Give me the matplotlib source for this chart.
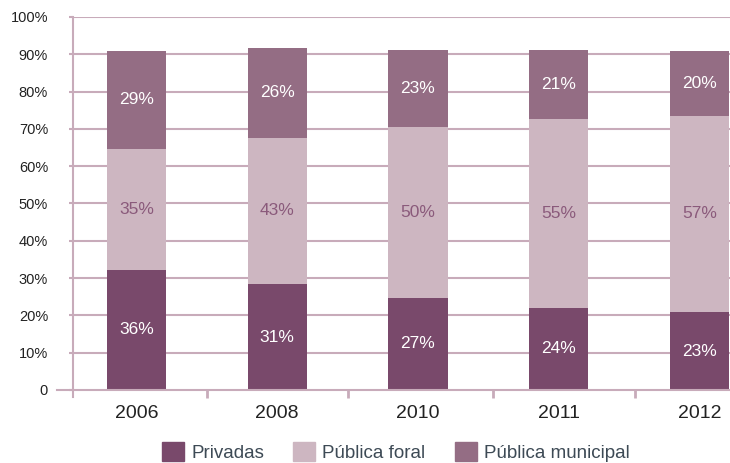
import numpy as np
import matplotlib
matplotlib.use('Agg')
import matplotlib.pyplot as plt
from matplotlib.patches import Patch

# -------- datos --------
anios = ['2006', '2008', '2010', '2011', '2012']
series = ['Privadas', 'Pública foral', 'Pública municipal']

# alturas de los segmentos (escala del eje)
h_privadas = [32.2, 28.4, 24.7, 22.0, 20.9]
h_foral = [32.4, 39.2, 45.8, 50.7, 52.6]
h_municipal = [26.3, 24.1, 20.7, 18.5, 17.4]

# etiquetas de cada segmento (%)
lab_privadas = [36, 31, 27, 24, 23]
lab_foral = [35, 43, 50, 55, 57]
lab_municipal = [29, 26, 23, 21, 20]

y_ticks = [0, 10, 20, 30, 40, 50, 60, 70, 80, 90, 100]

# -------- estilo --------
c_priv = '#79496b'
c_foral = '#cdb6c1'
c_muni = '#946d84'
c_grid = '#c8abba'
c_lab_foral = '#8a5a7b'
fuente = 'Liberation Sans'

fig = plt.figure(figsize=(7.3, 4.63), dpi=100)
ax = fig.add_axes([0.1, 0.1577, 0.9, 0.8056])

x = np.arange(len(anios))
w = 0.42
h_priv = np.array(h_privadas)
h_for = np.array(h_foral)
h_mun = np.array(h_municipal)

ax.bar(x, h_priv, w, color=c_priv, zorder=2)
ax.bar(x, h_for, w, bottom=h_priv, color=c_foral, zorder=2)
ax.bar(x, h_mun, w, bottom=h_priv + h_for, color=c_muni, zorder=2)

for i in range(len(anios)):
    ax.text(x[i], h_priv[i] / 2, '%d%%' % lab_privadas[i], ha='center', va='center',
            color='white', fontsize=12.5, family=fuente, zorder=3)
    ax.text(x[i], h_priv[i] + h_for[i] / 2, '%d%%' % lab_foral[i], ha='center', va='center',
            color=c_lab_foral, fontsize=12.5, family=fuente, zorder=3)
    ax.text(x[i], h_priv[i] + h_for[i] + h_mun[i] / 2, '%d%%' % lab_municipal[i], ha='center',
            va='center', color='white', fontsize=12.5, family=fuente, zorder=3)

ax.set_xlim(-0.451, 4.217)
ax.set_ylim(0, 100)

# rejilla horizontal
for yv in y_ticks[1:]:
    ax.axhline(yv, color=c_grid, lw=1.5, zorder=1)

for s in ['top', 'right']:
    ax.spines[s].set_visible(False)
ax.spines['left'].set_color(c_grid)
ax.spines['left'].set_linewidth(1.5)
ax.spines['left'].set_bounds(-1.8, 100)
ax.spines['bottom'].set_color(c_grid)
ax.spines['bottom'].set_linewidth(1.5)
ax.spines['bottom'].set_bounds(-0.565, 4.217)

ax.set_yticks(y_ticks)
ax.set_yticklabels(['0'] + ['%d%%' % v for v in y_ticks[1:]])
ax.tick_params(axis='y', length=3, width=1.5, color=c_grid, pad=15,
               labelsize=10.5, labelcolor='#222222')
for t in ax.get_yticklabels():
    t.set_family(fuente)

ax.set_xticks(x)
ax.set_xticklabels(anios)
ax.tick_params(axis='x', length=0, pad=11, labelsize=14, labelcolor='#222222')
for t in ax.get_xticklabels():
    t.set_family(fuente)
ax.set_xticks([0.5, 1.5, 2.53, 3.54], minor=True)
ax.tick_params(axis='x', which='minor', length=6, width=2, color=c_grid, direction='out')

handles = [Patch(color=c_priv), Patch(color=c_foral), Patch(color=c_muni)]
fig.legend(handles, series, loc='center', bbox_to_anchor=(0.542, 0.024), ncol=3,
           frameon=False, handlelength=1.17, handleheight=1.17, handletextpad=0.4,
           columnspacing=1.55, borderpad=0,
           prop={'family': fuente, 'size': 13.5},
           labelcolor='#3d4a55')

plt.savefig('out.png', dpi=100)
